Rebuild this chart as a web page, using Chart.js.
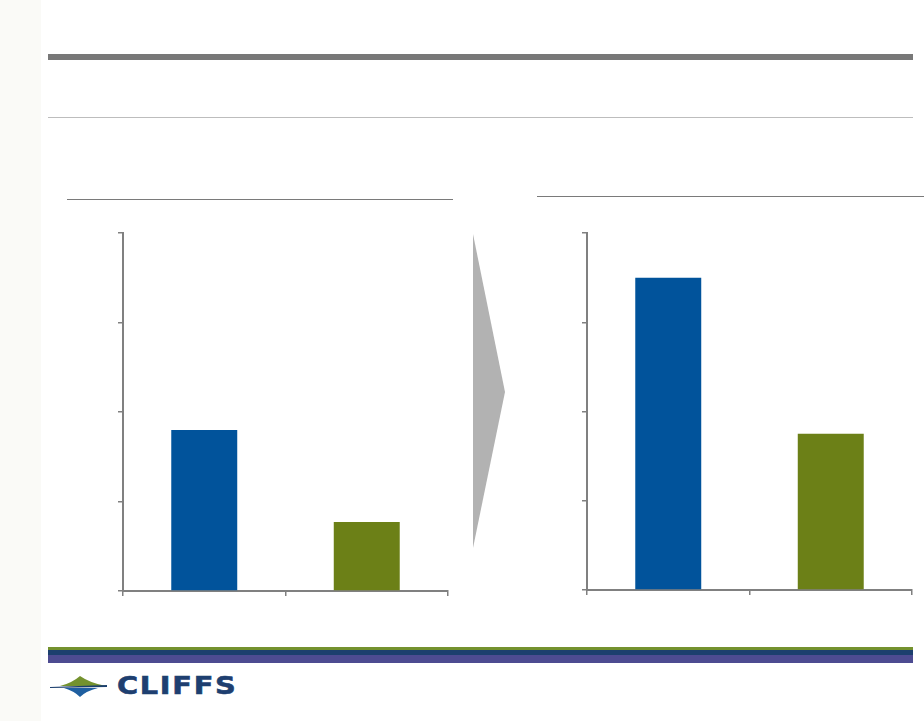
<!DOCTYPE html>
<html>
<head>
<meta charset="utf-8">
<script src="https://cdn.jsdelivr.net/npm/chart.js@4.4.1/dist/chart.umd.min.js"></script>
<style>
  body { margin: 0; width: 924px; height: 721px; background: #fff; position: relative; overflow: hidden; font-family: "DejaVu Sans", sans-serif; }
  .abs { position: absolute; }
  #strip { left: 0; top: 0; width: 41px; height: 721px; background: #fafaf7; }
  #topbar { left: 48px; top: 54px; width: 865px; height: 6px; background: #787878; }
  #thin { left: 48px; top: 117px; width: 865px; height: 1px; background: #bdbdbd; }
  .uline { height: 1px; background: #7a7a7a; }
  .box { position: absolute; }
  #logotext { left: 117px; top: 672px; font-size: 25px; font-weight: bold; color: #1e3f70; letter-spacing: 1.5px; line-height: 28px; transform: scaleX(1.15); transform-origin: left top; -webkit-text-stroke: 0.6px #1e3f70; }
</style>
</head>
<body>
<div id="strip" class="abs"></div>
<div id="topbar" class="abs"></div>
<div id="thin" class="abs"></div>
<div class="abs uline" style="left:67px;top:199px;width:386px;"></div>
<div class="abs uline" style="left:537px;top:196px;width:387px;"></div>

<svg class="abs" style="left:0;top:0" width="924" height="721">
  <polygon points="473,234 505,392 473,548" fill="#b2b2b2"/>
  <rect x="48" y="647" width="865" height="3" fill="#74922e"/>
  <rect x="48" y="650" width="865" height="5" fill="#1c3f6e"/>
  <rect x="48" y="655" width="865" height="8" fill="#4d4b91"/>
  <path d="M60,686 Q72,683 80,676 Q90,683 106,686 Z" fill="#74922e"/>
  <polygon points="50,687 107,685 107,687 50,688" fill="#1c3f6e"/>
  <path d="M64,688 L98,688 Q86,691 80,697 Q74,691 64,688 Z" fill="#1f5fa0"/>
</svg>
<div id="logotext" class="abs">CLIFFS</div>

<div class="box" style="left:114px;top:229px;width:338px;height:371px;"><canvas id="c1"></canvas></div>
<div class="box" style="left:578px;top:229px;width:338px;height:370px;"><canvas id="c2"></canvas></div>

<script>
// values, axis 0..4
var categories = ["A", "B"];
var leftValues = [1.80, 0.77];
var rightValues = [3.50, 1.75];
var barColors = ["#01539b", "#6c8017"];
var yTicks = { min: 0, max: 4, step: 1 };

function makeChart(id, values) {
    var ctx = document.getElementById(id).getContext('2d');
    return new Chart(ctx, {
        type: 'bar',
        data: {
            labels: categories,
            datasets: [{
                data: values,
                backgroundColor: barColors,
                borderWidth: 0,
                barPercentage: 0.406,
                categoryPercentage: 1
            }]
        },
        options: {
            responsive: true,
            maintainAspectRatio: false,
            animation: false,
            layout: { padding: 4 },
            plugins: { legend: { display: false }, tooltip: { enabled: false } },
            scales: {
                x: {
                    grid: { drawOnChartArea: false, color: '#808080', lineWidth: 1.5, tickLength: 5 },
                    border: { color: '#808080', width: 2 },
                    ticks: { display: false }
                },
                y: {
                    min: yTicks.min,
                    max: yTicks.max,
                    grid: { drawOnChartArea: false, color: '#808080', lineWidth: 1.5, tickLength: 5 },
                    border: { color: '#808080', width: 2 },
                    ticks: { display: false, stepSize: yTicks.step }
                }
            }
        }
    });
}

makeChart('c1', leftValues);
makeChart('c2', rightValues);
</script>
</body>
</html>
